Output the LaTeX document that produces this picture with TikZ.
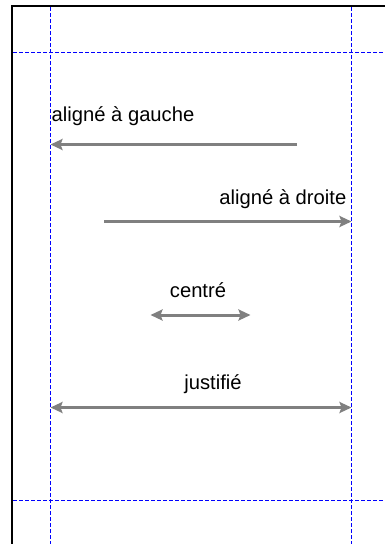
\documentclass[tikz,border=0pt]{standalone}
\usepackage{fontspec}
\setmainfont{Liberation Sans}
\usetikzlibrary{arrows.meta}
\definecolor{guide}{RGB}{0,0,255}
\definecolor{arrgray}{RGB}{128,128,128}
\tikzset{
  guideline/.style={draw=guide, line width=1pt, dash pattern=on 4pt off 2pt},
  frameline/.style={draw=black, line width=2pt},
  garrow/.style={draw=arrgray, line width=3pt, -{Stealth[length=12pt,width=11pt,inset=2pt]}},
  gdouble/.style={draw=arrgray, line width=3pt, {Stealth[length=12pt,width=11pt,inset=2pt]}-{Stealth[length=12pt,width=11pt,inset=2pt]}},
  lbl/.style={inner sep=0pt, font=\fontsize{20.2pt}{22pt}\selectfont},
}
\begin{document}
\begin{tikzpicture}[x=1pt,y=-1pt]
\useasboundingbox (0,0) rectangle (385,544);
\fill[white] (0,0) rectangle (385,544);
% frame
\draw[frameline] (12,544) -- (12,6) -- (385,6);
% guides
\draw[guideline] (50.5,7) -- (50.5,544);
\draw[guideline] (351.5,7) -- (351.5,544);
\draw[guideline] (13,52.5) -- (385,52.5);
\draw[guideline] (13,500.5) -- (385,500.5);
% labels
\node[lbl, anchor=base west] (tg) at (51.5,121.5) {aligné à gauche};
\node[lbl, anchor=base east] (td) at (346.5,204.5) {aligné à droite};
\node[lbl, anchor=base] (tc) at (198,297.5) {centré};
\node[lbl, anchor=base] (tj) at (213,389.5) {justifié};
% arrow ends
\coordinate (g1) at (297,144.5);
\coordinate (g2) at (50.5,144.5);
\coordinate (d1) at (104,221.5);
\coordinate (d2) at (351.5,221.5);
\coordinate (c1) at (150.5,315);
\coordinate (c2) at (250.5,315);
\coordinate (j1) at (50.5,407.5);
\coordinate (j2) at (351.5,407.5);
\draw[garrow] (g1) -- (g2);
\draw[garrow] (d1) -- (d2);
\draw[gdouble] (c1) -- (c2);
\draw[gdouble] (j1) -- (j2);
\end{tikzpicture}
\end{document}
